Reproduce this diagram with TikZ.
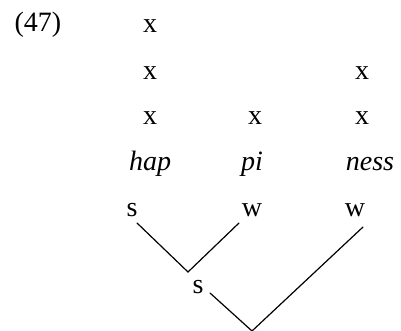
\documentclass[tikz,border=0pt]{standalone}
\usepackage{fontspec}
\setmainfont{Liberation Serif}
\begin{document}
\begin{tikzpicture}[x=0.75pt,y=-0.75pt,
  lab/.style={inner sep=0pt,font=\fontsize{21}{24}\selectfont},
  syl/.style={inner sep=0pt,anchor=base,font=\fontsize{21}{24}\selectfont\itshape},
  branch/.style={line width=0.9pt,line cap=round}]
\useasboundingbox (0,0) rectangle (401,331);
\node[lab] (num) at (38,25) {(47)};
\node[lab] (a1) at (150,26) {x};
\node[lab] (a2) at (150,73) {x};
\node[lab] (a3) at (150,118) {x};
\node[lab] (b3) at (255,118) {x};
\node[lab] (c2) at (362,73) {x};
\node[lab] (c3) at (362,118) {x};
\node[syl] (hap) at (150,171) {hap};
\node[syl] (pi) at (252,171) {pi};
\node[syl] (ness) at (370,171) {ness};
\node[lab] (s1) at (132,210) {s};
\node[lab] (w1) at (252,210) {w};
\node[lab] (w2) at (355,210) {w};
\node[lab] (s2) at (198,287) {s};
\coordinate (s1e) at (137,223);
\coordinate (v1) at (188,272);
\coordinate (w1e) at (239,223);
\coordinate (s2e) at (210,293);
\coordinate (v2) at (252,331);
\coordinate (w2e) at (363,227);
\draw[branch] (s1e) -- (v1) -- (w1e);
\draw[branch] (s2e) -- (v2) -- (w2e);
\end{tikzpicture}
\end{document}
